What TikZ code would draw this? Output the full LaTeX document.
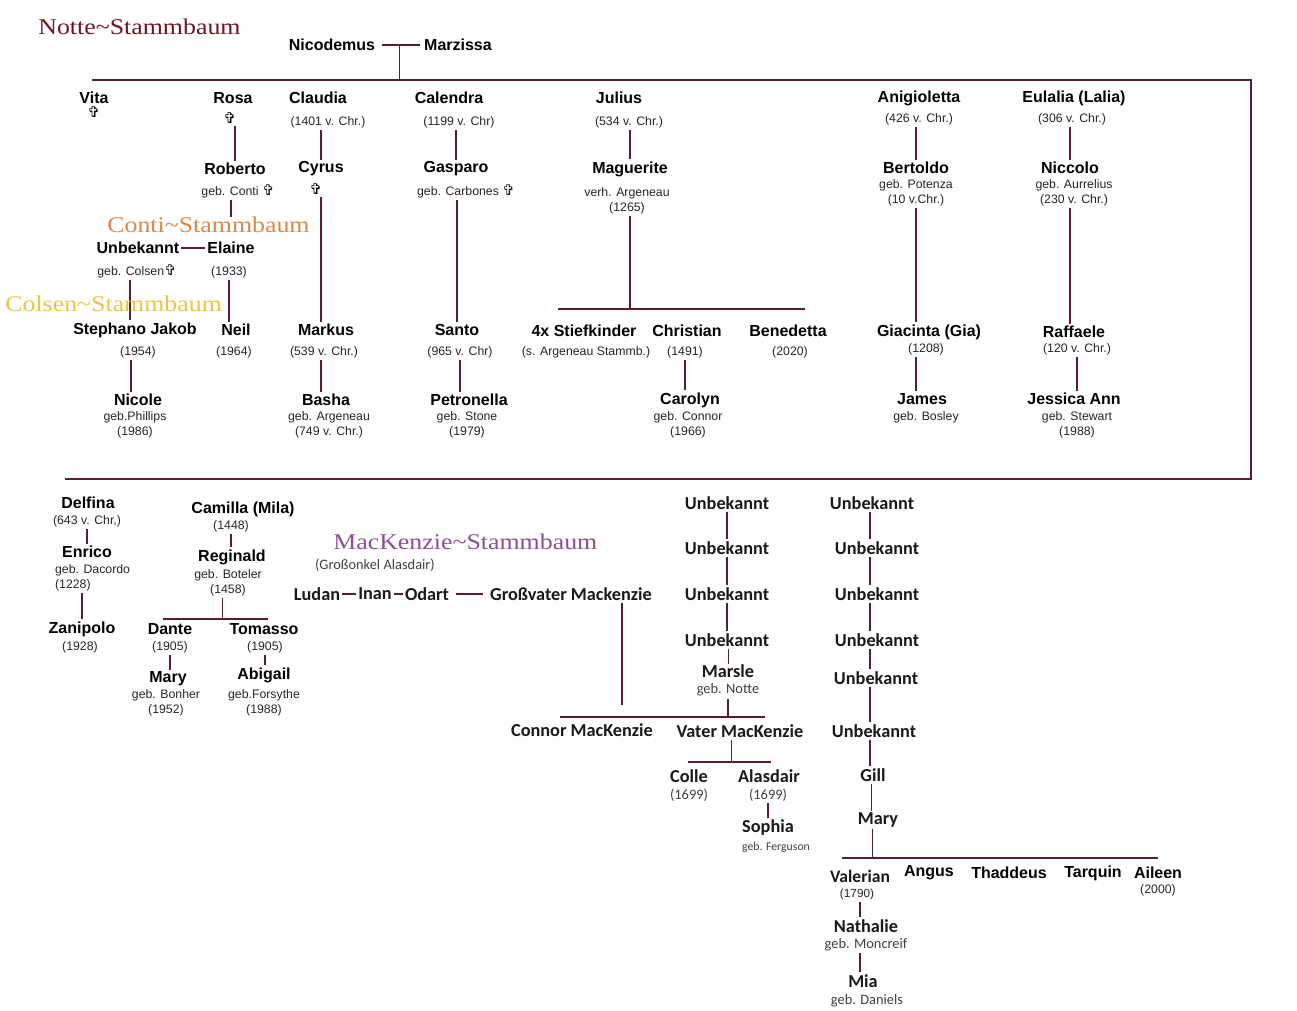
\documentclass[tikz,border=0pt]{standalone}
\usepackage{fontspec}
\setmainfont{Liberation Sans}
\newfontfamily\carlito{Carlito}
\newfontfamily\titlefont[FakeStretch=1.15]{Liberation Serif}
\newfontfamily\symfont{DejaVu Sans}
\definecolor{notte}{HTML}{6B1622}
\definecolor{conti}{HTML}{D9894C}
\definecolor{colsen}{HTML}{EBC545}
\definecolor{mackenzie}{HTML}{8F4F97}
\definecolor{stammlinie}{HTML}{5A1E2A}
\newcommand{\kreuz}{{\symfont\fontsize{8.5}{8.5}\selectfont ✞}}
\begin{document}
\begin{tikzpicture}[x=0.02cm, y=-0.02cm,
    nm/.style={font=\fontsize{9.1}{10}\selectfont\bfseries, inner sep=1pt},
    sm/.style={font=\fontsize{7}{8.5}\selectfont, text=black!85, inner sep=1pt, align=center},
    mk/.style={font=\carlito\bfseries\fontsize{10.4}{12}\selectfont, text=black!90, inner sep=1pt},
    mks/.style={font=\carlito\fontsize{8.2}{9}\selectfont, text=black!75, inner sep=1pt},
    ttl/.style={font=\titlefont\fontsize{12.8}{14}\selectfont, inner sep=0pt, anchor=west},
    ln/.style={draw=stammlinie, line width=0.6pt}]
  \fill[white] (0,0) rectangle (1297,1010);
  \useasboundingbox (0,0) rectangle (1297,1010);

  % Notte: Stammeltern
  \node[nm] (nico) at (332,45) {Nicodemus};
  \node[nm] (marz) at (458,45) {Marzissa};
  \coordinate (box-tl) at (92,80);
  \coordinate (box-tr) at (1251,80);
  \coordinate (box-br) at (1251,479);
  \coordinate (box-bl) at (65,479);
  \draw[ln] (box-tl) -- (box-tr) -- (box-br) -- (box-bl);
  \draw[ln, shorten <=2.5pt, shorten >=1pt] (nico.east) -- coordinate (nm-mid) (marz.west);
  \draw[ln] (nm-mid) -- (nm-mid |- box-tl);

  % Kinder
  \node[nm] (vita) at (94,98) {Vita};
  \node[inner sep=1pt] (vita-x) at (94,112) {\kreuz};
  \node[nm] (rosa) at (233,98) {Rosa};
  \node[inner sep=1pt] (rosa-x) at (230,118) {\kreuz};
  \node[nm] (claudia) at (318,98) {Claudia};
  \node[sm] (claudia-i) at (328,122) {(1401 v. Chr.)};
  \node[nm] (calendra) at (449,98) {Calendra};
  \node[sm] (calendra-i) at (459,122) {(1199 v. Chr)};
  \node[nm] (julius) at (619,98) {Julius};
  \node[sm] (julius-i) at (629,122) {(534 v. Chr.)};
  \node[nm] (anig) at (919,98) {Anigioletta};
  \node[sm] (anig-i) at (919,119) {(426 v. Chr.)};
  \node[nm] (eulalia) at (1074,98) {Eulalia (Lalia)};
  \node[sm] (eulalia-i) at (1072,119) {(306 v. Chr.)};

  \node[nm] (roberto) at (235,169) {Roberto};
  \node[sm] (roberto-i) at (238,191) {geb. Conti \kreuz};
  \node[nm] (cyrus) at (321,169) {Cyrus};
  \node[inner sep=1pt] (cyrus-x) at (316,189) {\kreuz};
  \node[nm] (gasparo) at (456,169) {Gasparo};
  \node[sm] (gasparo-i) at (466,191) {geb. Carbones \kreuz};
  \node[nm] (maguerite) at (630,169) {Maguerite};
  \node[sm] (mag-i) at (627,201) {verh. Argeneau\\(1265)};
  \node[nm] (bertoldo) at (916,168) {Bertoldo};
  \node[sm] (bert-i) at (916,193) {geb. Potenza\\(10 v.Chr.)};
  \node[nm] (niccolo) at (1070,168) {Niccolo};
  \node[sm] (nicc-i) at (1074,193) {geb. Aurrelius\\(230 v. Chr.)};

  % Conti
  \node[nm] (unbek) at (138,248) {Unbekannt};
  \node[sm] (unbek-i) at (137,271) {geb. Colsen\kreuz};
  \node[nm] (elaine) at (231,248) {Elaine};
  \node[sm] (elaine-i) at (229,272) {(1933)};

  \node[nm] (stephano) at (135,330) {Stephano Jakob};
  \node[sm] (steph-i) at (138,352) {(1954)};
  \node[nm] (neil) at (236,330) {Neil};
  \node[sm] (neil-i) at (234,352) {(1964)};
  \node[nm] (markus) at (326,330) {Markus};
  \node[sm] (markus-i) at (324,352) {(539 v. Chr.)};
  \node[nm] (santo) at (457,330) {Santo};
  \node[sm] (santo-i) at (460,352) {(965 v. Chr)};
  \node[nm] (stief) at (584,331) {4x Stiefkinder};
  \node[sm] (stief-i) at (586,352) {(s. Argeneau Stammb.)};
  \node[nm] (christian) at (687,331) {Christian};
  \node[sm] (christian-i) at (685,352) {(1491)};
  \node[nm] (benedetta) at (788,331) {Benedetta};
  \node[sm] (bene-i) at (790,352) {(2020)};
  \node[nm] (giacinta) at (929,332) {Giacinta (Gia)};
  \node[sm] (gia-i) at (926,349) {(1208)};
  \node[nm] (raffaele) at (1074,332) {Raffaele};
  \node[sm] (raff-i) at (1077,349) {(120 v. Chr.)};

  \node[nm] (nicole) at (138,400) {Nicole};
  \node[sm] (nicole-i) at (135,425) {geb.Phillips\\(1986)};
  \node[nm] (basha) at (326,400) {Basha};
  \node[sm] (basha-i) at (329,425) {geb. Argeneau\\(749 v. Chr.)};
  \node[nm] (petronella) at (469,400) {Petronella};
  \node[sm] (petro-i) at (467,425) {geb. Stone\\(1979)};
  \node[nm] (carolyn) at (690,400) {Carolyn};
  \node[sm] (carolyn-i) at (688,425) {geb. Connor\\(1966)};
  \node[nm] (james) at (922,399) {James};
  \node[sm] (james-i) at (926,417) {geb. Bosley};
  \node[nm] (jessica) at (1074,399) {Jessica Ann};
  \node[sm] (jess-i) at (1077,425) {geb. Stewart\\(1988)};

  \coordinate (magbar-l) at (558,309);
  \coordinate (magbar-r) at (805,309);
  \draw[ln] (magbar-l) -- (magbar-r);
  \draw[ln] (roberto.north |- rosa-x.south) -- (roberto.north);
  \draw[ln] (claudia-i.south -| cyrus) -- (cyrus.north);
  \draw[ln] (calendra-i.south -| gasparo) -- (gasparo.north);
  \draw[ln] (julius-i.south -| maguerite) -- (maguerite.north);
  \draw[ln] (anig-i.south -| bertoldo) -- (bertoldo.north);
  \draw[ln] (eulalia-i.south -| niccolo) -- (niccolo.north);
  \draw[ln] (unbek.east) -- (elaine.west);
  \draw[ln] ([xshift=-4pt]unbek-i.south) -- ([xshift=-4pt]unbek-i.south |- stephano.north);
  \draw[ln] (elaine-i.south) -- (elaine-i.south |- neil.north);
  \draw[ln] (cyrus-x.south -| cyrus) -- (cyrus |- markus.north);
  \draw[ln] (gasparo-i.south -| santo) -- (santo.north);
  \draw[ln] (mag-i.south -| maguerite) -- (maguerite |- magbar-l);
  \draw[ln] (bert-i.south -| bertoldo) -- (bertoldo |- giacinta.north);
  \draw[ln] (nicc-i.south -| niccolo) -- (niccolo |- raffaele.north);
  \draw[ln] ([xshift=-4pt]steph-i.south) -- ([xshift=-4pt]steph-i.south |- nicole.north);
  \draw[ln] (markus-i.south -| cyrus) -- (cyrus |- basha.north);
  \draw[ln] (santo-i.south) -- (santo-i.south |- petronella.north);
  \draw[ln] (christian-i.south) -- (christian-i.south |- carolyn.north);
  \draw[ln] (gia-i.south -| bertoldo) -- (bertoldo |- james.north);
  \draw[ln] (raff-i.south) -- (raff-i.south |- jessica.north);

  % unten links
  \node[nm] (delfina) at (88,503) {Delfina};
  \node[sm] (delf-i) at (87,521) {(643 v. Chr,)};
  \node[nm] (enrico) at (87,552) {Enrico};
  \node[sm, align=left, anchor=west] (enrico-i) at (53,578) {geb. Dacordo\\(1228)};
  \node[nm] (zanipolo) at (82,629) {Zanipolo};
  \node[sm] (zani-i) at (80,647) {(1928)};
  \node[nm] (camilla) at (243,509) {Camilla (Mila)};
  \node[sm] (camilla-i) at (231,526) {(1448)};
  \node[nm] (reginald) at (232,557) {Reginald};
  \node[sm] (reg-i) at (228,583) {geb. Boteler\\(1458)};
  \node[nm] (dante) at (170,629) {Dante};
  \node[sm] (dante-i) at (170,647) {(1905)};
  \node[nm] (tomasso) at (264,629) {Tomasso};
  \node[sm] (tomasso-i) at (265,647) {(1905)};
  \node[nm] (mary1) at (168,679) {Mary};
  \node[sm] (mary1-i) at (166,703) {geb. Bonher\\(1952)};
  \node[nm] (abigail) at (264,675) {Abigail};
  \node[sm] (abigail-i) at (264,703) {geb.Forsythe\\(1988)};
  \coordinate (regbar-l) at (163,619);
  \coordinate (regbar-r) at (268,619);
  \draw[ln] (regbar-l) -- (regbar-r);
  \draw[ln] (delf-i.south) -- (delf-i.south |- enrico.north);
  \draw[ln] (enrico-i.south -| zanipolo) -- (zanipolo.north);
  \draw[ln] (camilla-i.south) -- (camilla-i.south |- reginald.north);
  \draw[ln] ([xshift=-3pt]reg-i.south) -- ([xshift=-3pt]reg-i.south |- regbar-l);
  \draw[ln] (dante-i.south) -- (dante-i.south |- mary1.north);
  \draw[ln] (tomasso-i.south) -- (tomasso-i.south |- abigail.north);

  % MacKenzie
  \node[mks] (onkel) at (375,565) {(Großonkel Alasdair)};
  \node[mk] (ludan) at (317,594) {Ludan};
  \node[mk] (inan) at (375,594) {Inan};
  \node[mk] (odart) at (427,594) {Odart};
  \node[mk] (grossvater) at (571,594) {Großvater Mackenzie};
  \node[mk] (connor) at (582,730) {Connor MacKenzie};
  \node[mk] (vater) at (740,731) {Vater MacKenzie};
  \draw[ln] (ludan.east) -- (inan.west);
  \draw[ln] (inan.east) -- (odart.west);
  \draw[ln] ([xshift=3pt]odart.east) -- ([xshift=-3pt]grossvater.west);
  \coordinate (gv-drop) at (622,705);
  \coordinate (mkbar-l) at (560,717);
  \coordinate (mkbar-r) at (765,717);
  \draw[ln] (gv-drop |- grossvater.south) -- (gv-drop);
  \draw[ln] (mkbar-l) -- (mkbar-r);

  \coordinate (spalte1) at (727,0);
  \node[mk] (u1a) at (727,503) {Unbekannt};
  \node[mk] (u1b) at (727,548) {Unbekannt};
  \node[mk] (u1c) at (727,594) {Unbekannt};
  \node[mk] (u1d) at (727,640) {Unbekannt};
  \node[mk, inner sep=0pt] (marsle) at (728,671) {Marsle};
  \node[mks, inner sep=0pt] (marsle-i) at (728,690) {geb. Notte};
  \draw[ln] (spalte1 |- u1a.south) -- (spalte1 |- u1b.north);
  \draw[ln] (spalte1 |- u1b.south) -- (spalte1 |- u1c.north);
  \draw[ln] (spalte1 |- u1c.south) -- (spalte1 |- u1d.north);
  \draw[ln] ([xshift=1pt]spalte1 |- u1d.south) -- ([xshift=1pt]spalte1 |- marsle.north);
  \draw[ln] ([yshift=-1.5pt]marsle-i.south) -- (marsle-i.south |- mkbar-l);

  \node[mk] (colle) at (689,776) {Colle};
  \node[mks] (colle-i) at (689,795) {(1699)};
  \node[mk] (alasdair) at (769,776) {Alasdair};
  \node[mks] (alas-i) at (768,795) {(1699)};
  \node[mk] (sophia) at (768,828) {Sophia};
  \node[mks, font=\carlito\fontsize{6.7}{8}\selectfont] (sophia-i) at (776,847) {geb. Ferguson};
  \coordinate (vbar-l) at (688,762);
  \coordinate (vbar-r) at (771,762);
  \draw[ln] (vbar-l) -- (vbar-r);
  \draw[ln] ([xshift=-5pt]vater.south) -- ([xshift=-5pt]vater.south |- vbar-l);
  \draw[ln] (alas-i.south) -- (alas-i.south |- sophia.north);

  \coordinate (spalte2) at (870,0);
  \node[mk] (v1) at (872,503) {Unbekannt};
  \node[mk] (v2) at (877,548) {Unbekannt};
  \node[mk] (v3) at (877,594) {Unbekannt};
  \node[mk] (v4) at (877,640) {Unbekannt};
  \node[mk] (v5) at (876,678) {Unbekannt};
  \node[mk] (v6) at (874,731) {Unbekannt};
  \node[mk] (gill) at (873,775) {Gill};
  \node[mk] (mary2) at (878,820) {Mary};
  \coordinate (gbar-l) at (842,858);
  \coordinate (gbar-r) at (1158,858);
  \draw[ln] (gbar-l) -- (gbar-r);
  \draw[ln] (spalte2 |- v1.south) -- (spalte2 |- v2.north);
  \draw[ln] (spalte2 |- v2.south) -- (spalte2 |- v3.north);
  \draw[ln] (spalte2 |- v3.south) -- (spalte2 |- v4.north);
  \draw[ln] (spalte2 |- v4.south) -- (spalte2 |- v5.north);
  \draw[ln] (spalte2 |- v5.south) -- (spalte2 |- v6.north);
  \draw[ln] (spalte2 |- v6.south) -- (spalte2 |- gill.north);
  \draw[ln] ([xshift=1pt]spalte2 |- gill.south) -- ([xshift=1pt]spalte2 |- mary2.north);
  \draw[ln] ([xshift=1.5pt]spalte2 |- mary2.south) -- ([xshift=1.5pt]spalte2 |- gbar-l);

  \node[mk, font=\carlito\bfseries\fontsize{10}{12}\selectfont] (valerian) at (860,876) {Valerian};
  \node[sm, font=\fontsize{6.7}{8}\selectfont] (val-i) at (857,894) {(1790)};
  \node[nm] (angus) at (929,873) {Angus};
  \node[nm] (thaddeus) at (1009,873) {Thaddeus};
  \node[nm] (tarquin) at (1093,873) {Tarquin};
  \node[nm] (aileen) at (1158,873) {Aileen};
  \node[sm] (aileen-i) at (1158,890) {(2000)};
  \node[mk] (nathalie) at (866,926) {Nathalie};
  \node[mks] (nath-i) at (866,945) {geb. Moncreif};
  \node[mk] (mia) at (863,981) {Mia};
  \node[mks] (mia-i) at (867,1001) {geb. Daniels};
  \draw[ln] (val-i.south -| valerian) -- (valerian |- nathalie.north);
  \draw[ln] (nath-i.south -| valerian) -- (valerian |- mia.north);

  % Titel
  \node[ttl, text=notte] (notte) at (38,27) {Notte\textasciitilde Stammbaum};
  \node[ttl, text=conti] (conti) at (107,225) {Conti\textasciitilde Stammbaum};
  \node[ttl, text=colsen] (colsen) at (5,304) {Colsen\textasciitilde Stammbaum};
  \node[ttl, text=mackenzie] (mackenzie) at (333,542) {MacKenzie\textasciitilde Stammbaum};
  \draw[ln] (roberto-i.south -| elaine) -- (elaine |- conti.north);
\end{tikzpicture}
\end{document}
